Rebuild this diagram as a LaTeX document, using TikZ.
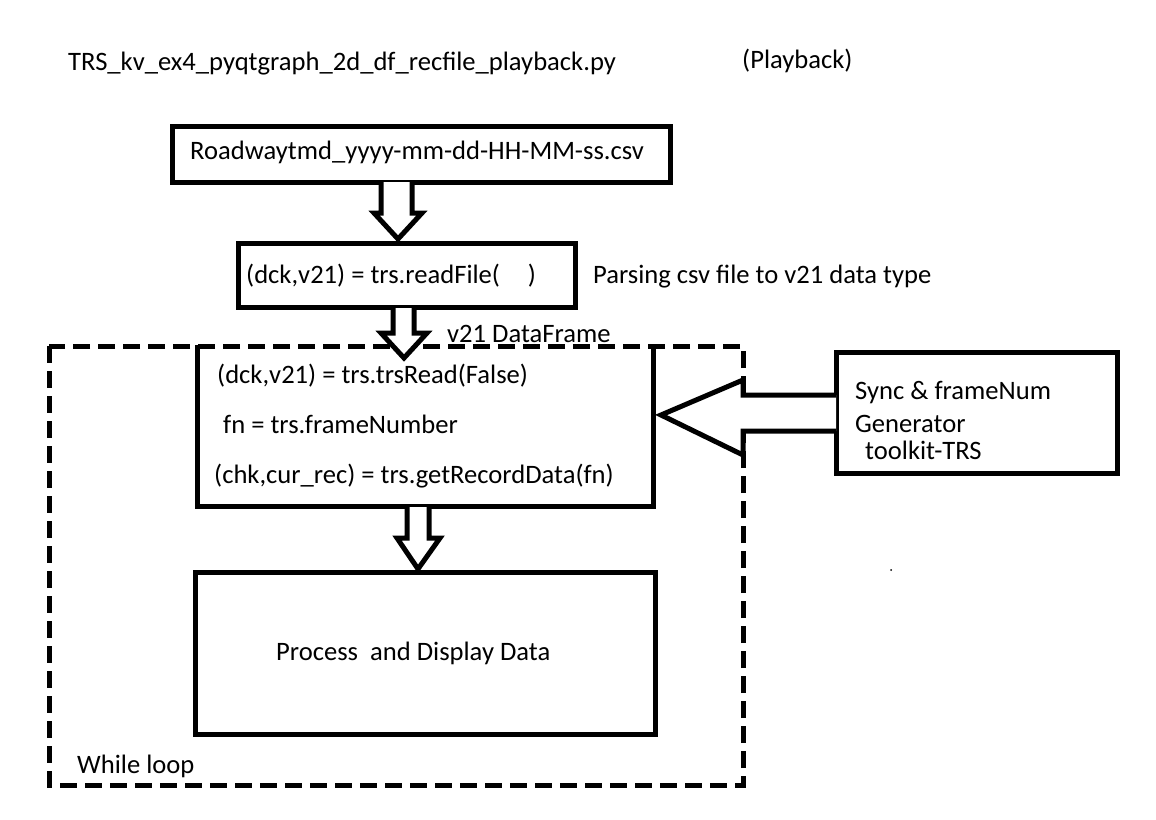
\documentclass[tikz,border=0pt]{standalone}
\usepackage{fontspec}
\setmainfont{Carlito}
\begin{document}
\begin{tikzpicture}[x=1pt,y=-1pt,
  lbl/.style={anchor=base west,inner sep=0pt,font=\fontsize{26.6}{32}\selectfont},
  boxline/.style={draw=black,line width=5pt},
  hollow/.style={draw=black,fill=white,line width=5pt,line join=miter},
  loopline/.style={draw=black,line width=5pt,dash pattern=on 17pt off 8pt}]
\useasboundingbox[fill=white] (0,0) rectangle (1156,819);

% text outside boxes
\node[lbl] (title) at (68,70) {TRS\_kv\_ex4\_pyqtgraph\_2d\_df\_recfile\_playback.py};
\node[lbl] (mode) at (742,68) {(Playback)};

% boxes
\draw[boxline] (172,126) rectangle (670,182);
\node[lbl] (t1) at (190,159) {Roadwaytmd\_yyyy-mm-dd-HH-MM-ss.csv};

\draw[boxline] (238,243) rectangle (575,307);
\node[lbl] (t2) at (246,283) {(dck,v21) = trs.readFile(\hspace{1.05em})};
\node[lbl] (parse) at (593,283) {Parsing csv file to v21 data type};

% box3 (top edge given by the loop border)
\draw[boxline,line join=miter] (197,345) -- (197,506) -- (653,506) -- (653,345);
\node[lbl] (t3a) at (217,383) {(dck,v21) = trs.trsRead(False)};
\node[lbl] (t3b) at (223,433) {fn = trs.frameNumber};
\node[lbl] (t3c) at (214,483) {(chk,cur\_rec) = trs.getRecordData(fn)};

% box4
\draw[boxline] (195,572) rectangle (655,734);
\node[lbl] (t4) at (276,660) {Process\ \ and Display Data};

% right box
\draw[boxline] (836,352) rectangle (1117,473);
\node[lbl] (s1) at (855,399) {Sync \& frameNum};
\node[lbl] (s2) at (855,432) {Generator};
\node[lbl] (s3) at (865,459) {toolkit-TRS};

% while loop border
\draw[loopline] (49,346) rectangle (743,785);
\node[lbl] (wl) at (77,773) {While loop};

% hollow arrows
\draw[hollow] (381,182) -- (381,213) -- (374,213) -- (398,239) -- (422,213) -- (412,213) -- (412,182);
\draw[hollow] (393,308) -- (393,333) -- (381,333) -- (404,358) -- (427,333) -- (414,333) -- (414,308);
\node[lbl] (df) at (447,342) {v21 DataFrame};
\draw[hollow] (407,507) -- (407,538) -- (397,538) -- (418,569) -- (440,538) -- (429,538) -- (429,507);
\draw[hollow] (836,395) -- (743,395) -- (743,380) -- (661,415) -- (743,455) -- (743,431) -- (836,431);

\fill[black] (891,570) circle (1pt);
\end{tikzpicture}
\end{document}
